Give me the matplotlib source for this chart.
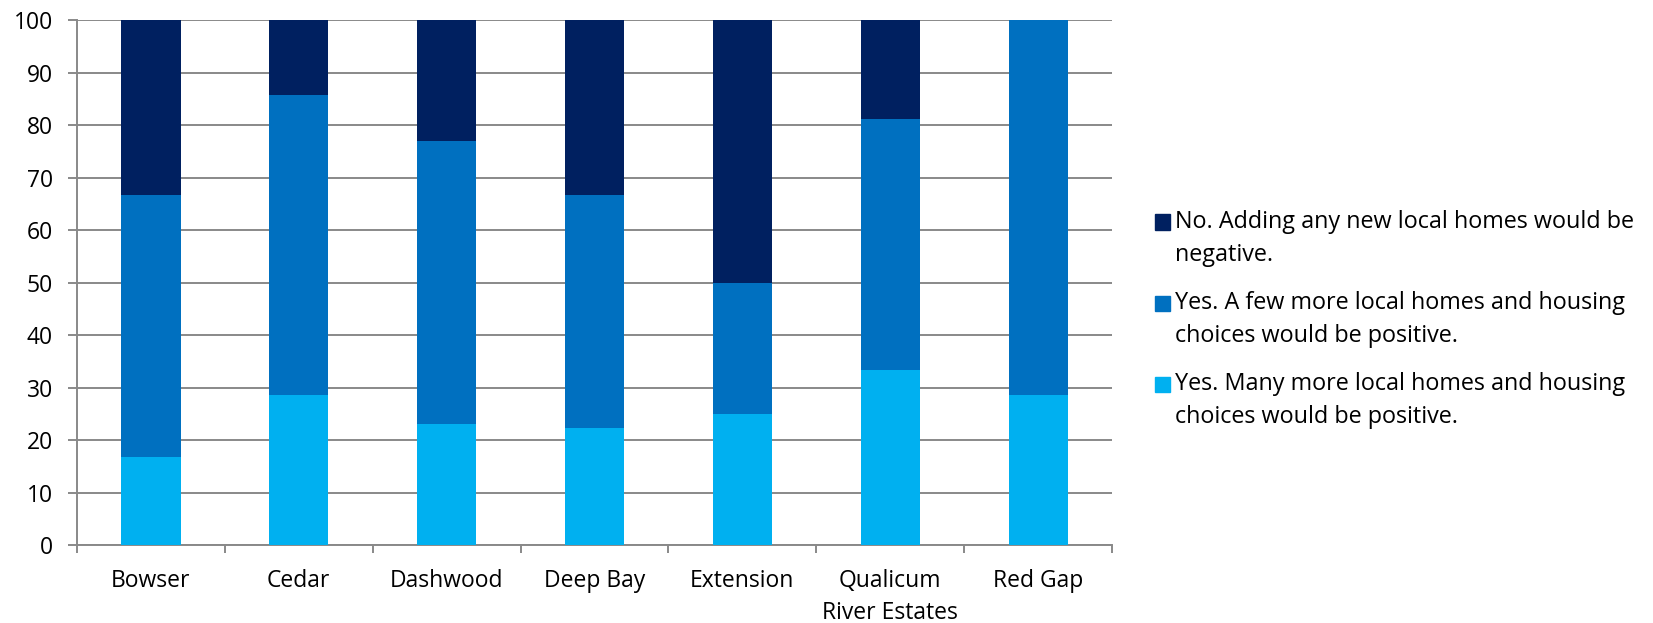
import matplotlib
matplotlib.use('Agg')
import matplotlib.pyplot as plt
from matplotlib.patches import Rectangle
import numpy as np

# Survey responses by community (percent of respondents)
communities = ['Bowser', 'Cedar', 'Dashwood', 'Deep Bay', 'Extension',
               'Qualicum\nRiver Estates', 'Red Gap']
many_more = [16.7, 28.6, 23.1, 22.2, 25.0, 33.3, 28.6]
few_more = [50.0, 57.1, 53.8, 44.5, 25.0, 47.9, 71.4]
no_new = [33.3, 14.3, 23.1, 33.3, 50.0, 18.8, 0.0]

labels = ['No. Adding any new local homes would be\nnegative.',
          'Yes. A few more local homes and housing\nchoices would be positive.',
          'Yes. Many more local homes and housing\nchoices would be positive.']
colors = ['#002060', '#0070C0', '#00B0F0']

plt.rcParams['font.family'] = ['Open Sans', 'DejaVu Sans']

W, H = 1653, 623
fig = plt.figure(figsize=(W / 100, H / 100), dpi=100)
ax = fig.add_axes([77 / W, 1 - 545 / H, (1112 - 77) / W, (545 - 20) / H])

x = np.arange(len(communities))
width = 0.40
ax.bar(x, many_more, width, color=colors[2], zorder=3)
ax.bar(x, few_more, width, bottom=many_more, color=colors[1], zorder=3)
bottom2 = np.array(many_more) + np.array(few_more)
ax.bar(x, no_new, width, bottom=bottom2, color=colors[0], zorder=3)

grid_color = '#898989'
ax.set_ylim(0, 100)
ax.set_xlim(-0.5, len(communities) - 0.5)
ax.set_yticks(np.arange(0, 101, 10))
ax.yaxis.grid(True, color=grid_color, linewidth=1.4)
ax.set_axisbelow(True)

for side in ['top', 'right']:
    ax.spines[side].set_visible(False)
for side in ['left', 'bottom']:
    ax.spines[side].set_color(grid_color)
    ax.spines[side].set_linewidth(1.4)

ax.set_xticks(x)
ax.set_xticklabels(communities, fontsize=16.5, color='#000000', linespacing=1.45)
ax.set_xticks(np.arange(-0.5, len(communities), 1.0), minor=True)
ax.tick_params(axis='x', which='major', length=0, pad=17)
ax.tick_params(axis='x', which='minor', length=6, width=1.4, color=grid_color)
ax.tick_params(axis='y', length=6.5, width=1.4, color=grid_color, labelsize=16.5, pad=11)

# Legend drawn by hand so each swatch sits beside the first text line
line_step = 33
legend_y = [222, 303, 384]
for lbl, col, yp in zip(labels, colors, legend_y):
    fig.patches.append(Rectangle((1155 / W, 1 - (yp + 7.5) / H), 15 / W, 15 / H,
                                 transform=fig.transFigure, color=col))
    for i, line in enumerate(lbl.split('\n')):
        fig.text(1175 / W, 1 - (yp + i * line_step) / H, line, fontsize=16.8,
                 va='center', ha='left')

fig.savefig('out.png', dpi=100, facecolor='white')
